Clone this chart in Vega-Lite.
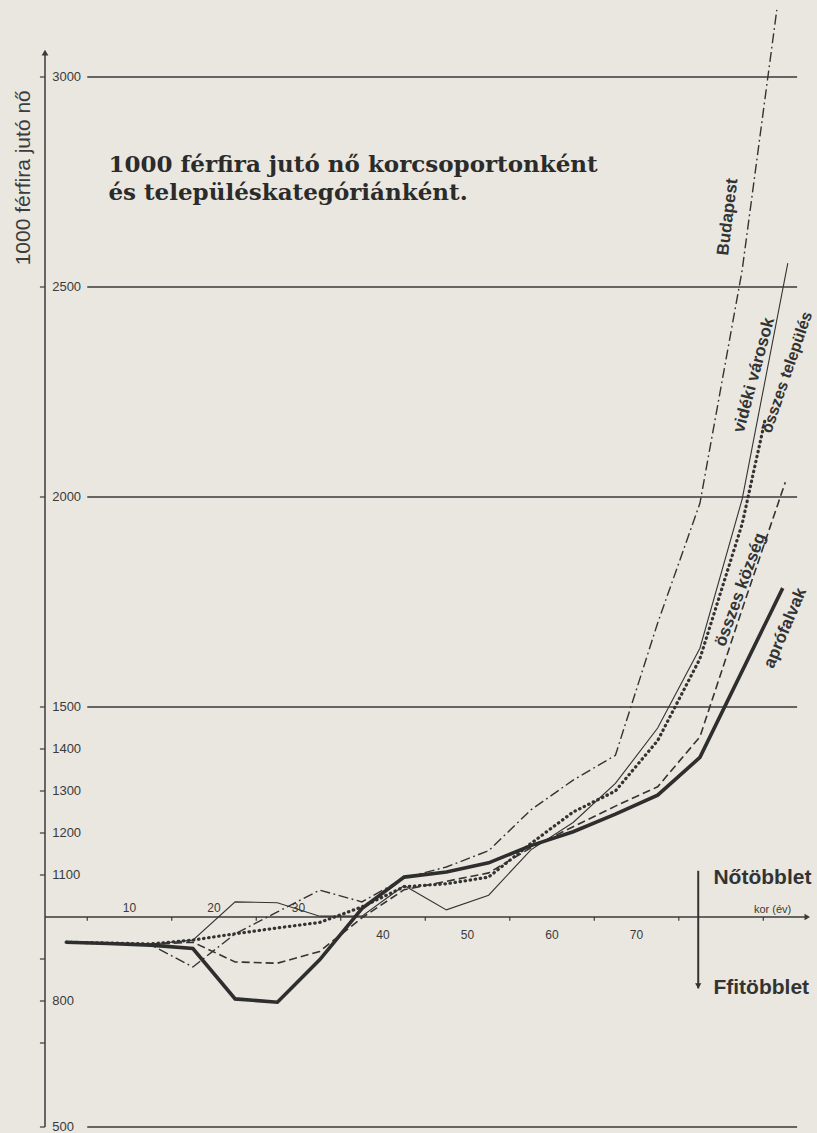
{
  "$schema": "https://vega.github.io/schema/vega-lite/v6.json",
  "width": 769,
  "height": 1127,
  "autosize": {"type": "none"},
  "padding": {"left": 45, "top": 0, "right": 3, "bottom": 6},
  "background": "#e9e7df",
  "config": {"view": {"stroke": null}, "font": "Liberation Sans"},
  "datasets": {
    "lines": [
      {"series": "Budapest", "age": 2.5, "v": 940}, {"series": "Budapest", "age": 7.5, "v": 938}, {"series": "Budapest", "age": 12.5, "v": 934}, {"series": "Budapest", "age": 17.5, "v": 881}, {"series": "Budapest", "age": 22.5, "v": 960}, {"series": "Budapest", "age": 27.5, "v": 1012}, {"series": "Budapest", "age": 32.5, "v": 1064}, {"series": "Budapest", "age": 37.5, "v": 1036}, {"series": "Budapest", "age": 42.5, "v": 1093}, {"series": "Budapest", "age": 47.5, "v": 1119}, {"series": "Budapest", "age": 52.5, "v": 1158}, {"series": "Budapest", "age": 57.5, "v": 1255}, {"series": "Budapest", "age": 62.5, "v": 1326}, {"series": "Budapest", "age": 67.5, "v": 1385}, {"series": "Budapest", "age": 72.5, "v": 1700}, {"series": "Budapest", "age": 77.5, "v": 1985}, {"series": "Budapest", "age": 82.5, "v": 2540}, {"series": "Budapest", "age": 86.6, "v": 3160},
      {"series": "vidéki városok", "age": 2.5, "v": 940}, {"series": "vidéki városok", "age": 7.5, "v": 938}, {"series": "vidéki városok", "age": 12.5, "v": 935}, {"series": "vidéki városok", "age": 17.5, "v": 945}, {"series": "vidéki városok", "age": 22.5, "v": 1036}, {"series": "vidéki városok", "age": 27.5, "v": 1034}, {"series": "vidéki városok", "age": 32.5, "v": 1002}, {"series": "vidéki városok", "age": 37.5, "v": 1002}, {"series": "vidéki városok", "age": 42.5, "v": 1075}, {"series": "vidéki városok", "age": 47.5, "v": 1017}, {"series": "vidéki városok", "age": 52.5, "v": 1052}, {"series": "vidéki városok", "age": 57.5, "v": 1160}, {"series": "vidéki városok", "age": 62.5, "v": 1225}, {"series": "vidéki városok", "age": 67.5, "v": 1318}, {"series": "vidéki városok", "age": 72.5, "v": 1450}, {"series": "vidéki városok", "age": 77.5, "v": 1640}, {"series": "vidéki városok", "age": 82.5, "v": 1995}, {"series": "vidéki városok", "age": 87.9, "v": 2557},
      {"series": "összes település", "age": 2.5, "v": 940}, {"series": "összes település", "age": 7.5, "v": 938}, {"series": "összes település", "age": 12.5, "v": 936}, {"series": "összes település", "age": 17.5, "v": 945}, {"series": "összes település", "age": 22.5, "v": 960}, {"series": "összes település", "age": 27.5, "v": 974}, {"series": "összes település", "age": 32.5, "v": 987}, {"series": "összes település", "age": 37.5, "v": 1024}, {"series": "összes település", "age": 42.5, "v": 1072}, {"series": "összes település", "age": 47.5, "v": 1079}, {"series": "összes település", "age": 52.5, "v": 1095}, {"series": "összes település", "age": 57.5, "v": 1175}, {"series": "összes település", "age": 62.5, "v": 1250}, {"series": "összes település", "age": 67.5, "v": 1300}, {"series": "összes település", "age": 72.5, "v": 1420}, {"series": "összes település", "age": 77.5, "v": 1615}, {"series": "összes település", "age": 82.5, "v": 1936}, {"series": "összes település", "age": 85.2, "v": 2183},
      {"series": "összes község", "age": 2.5, "v": 940}, {"series": "összes község", "age": 7.5, "v": 938}, {"series": "összes község", "age": 12.5, "v": 935}, {"series": "összes község", "age": 17.5, "v": 940}, {"series": "összes község", "age": 22.5, "v": 893}, {"series": "összes község", "age": 27.5, "v": 890}, {"series": "összes község", "age": 32.5, "v": 918}, {"series": "összes község", "age": 37.5, "v": 998}, {"series": "összes község", "age": 42.5, "v": 1065}, {"series": "összes község", "age": 47.5, "v": 1085}, {"series": "összes község", "age": 52.5, "v": 1105}, {"series": "összes község", "age": 57.5, "v": 1165}, {"series": "összes község", "age": 62.5, "v": 1215}, {"series": "összes község", "age": 67.5, "v": 1264}, {"series": "összes község", "age": 72.5, "v": 1310}, {"series": "összes község", "age": 77.5, "v": 1429}, {"series": "összes község", "age": 82.5, "v": 1733}, {"series": "összes község", "age": 87.6, "v": 2035},
      {"series": "aprófalvak", "age": 2.5, "v": 940}, {"series": "aprófalvak", "age": 7.5, "v": 937}, {"series": "aprófalvak", "age": 12.5, "v": 933}, {"series": "aprófalvak", "age": 17.5, "v": 925}, {"series": "aprófalvak", "age": 22.5, "v": 805}, {"series": "aprófalvak", "age": 27.5, "v": 797}, {"series": "aprófalvak", "age": 32.5, "v": 898}, {"series": "aprófalvak", "age": 37.5, "v": 1020}, {"series": "aprófalvak", "age": 42.5, "v": 1095}, {"series": "aprófalvak", "age": 47.5, "v": 1107}, {"series": "aprófalvak", "age": 52.5, "v": 1129}, {"series": "aprófalvak", "age": 57.5, "v": 1170}, {"series": "aprófalvak", "age": 62.5, "v": 1203}, {"series": "aprófalvak", "age": 67.5, "v": 1245}, {"series": "aprófalvak", "age": 72.5, "v": 1290}, {"series": "aprófalvak", "age": 77.5, "v": 1380}, {"series": "aprófalvak", "age": 87.3, "v": 1783}
    ],
    "grid": [{"g": 500}, {"g": 1500}, {"g": 2000}, {"g": 2500}, {"g": 3000}],
    "yticks": [{"v": 500}, {"v": 700}, {"v": 800}, {"v": 900}, {"v": 1100}, {"v": 1200}, {"v": 1300}, {"v": 1400}, {"v": 1500}, {"v": 2000}, {"v": 2500}, {"v": 3000}],
    "ylabels": [{"v": 500, "lab": "500"}, {"v": 800, "lab": "800"}, {"v": 1100, "lab": "1100"}, {"v": 1200, "lab": "1200"}, {"v": 1300, "lab": "1300"}, {"v": 1400, "lab": "1400"}, {"v": 1500, "lab": "1500"}, {"v": 2000, "lab": "2000"}, {"v": 2500, "lab": "2500"}, {"v": 3000, "lab": "3000"}],
    "xticks": [{"t": 5}, {"t": 15}, {"t": 25}, {"t": 35}, {"t": 45}, {"t": 55}, {"t": 65}, {"t": 75}, {"t": 85}],
    "xlabels": [{"a": 10, "lab": "10"}, {"a": 20, "lab": "20"}, {"a": 30, "lab": "30"}, {"a": 40, "lab": "40"}, {"a": 50, "lab": "50"}, {"a": 60, "lab": "60"}, {"a": 70, "lab": "70"}],
    "one": [{}]
  },
  "layer": [
    {
      "data": {"name": "grid"},
      "mark": {"type": "rule", "color": "#3a3a3a", "strokeWidth": 1.3},
      "encoding": {
        "y": {"field": "g", "type": "quantitative", "scale": {"domain": [500, 3183.33], "nice": false, "zero": false}, "axis": null},
        "x": {"datum": 5, "type": "quantitative", "scale": {"domain": [0, 91], "nice": false, "zero": false}, "axis": null},
        "x2": {"datum": 89}
      }
    },
    {
      "data": {"name": "yticks"},
      "mark": {"type": "rule", "color": "#3a3a3a", "strokeWidth": 1.2},
      "encoding": {"y": {"field": "v", "type": "quantitative", "axis": null}, "x": {"datum": -0.6, "type": "quantitative", "axis": null}, "x2": {"datum": 0}}
    },
    {
      "data": {"name": "ylabels"},
      "mark": {"type": "text", "align": "left", "baseline": "middle", "fontSize": 13, "color": "#3a3a3a"},
      "encoding": {"y": {"field": "v", "type": "quantitative", "axis": null}, "x": {"datum": 0.85, "type": "quantitative", "axis": null}, "text": {"field": "lab"}}
    },
    {
      "data": {"name": "one"},
      "mark": {"type": "text", "align": "center", "baseline": "middle", "fontSize": 21, "angle": 270, "color": "#3c3c3c"},
      "encoding": {"x": {"datum": -2.5, "type": "quantitative", "axis": null}, "y": {"datum": 2760, "type": "quantitative", "axis": null}, "text": {"value": "1000 férfira jutó nő"}}
    },
    {
      "data": {"name": "one"},
      "mark": {"type": "rule", "color": "#3a3a3a", "strokeWidth": 1.5},
      "encoding": {"x": {"datum": 0, "type": "quantitative", "axis": null}, "y": {"datum": 500, "type": "quantitative", "axis": null}, "y2": {"datum": 3060}}
    },
    {
      "data": {"name": "one"},
      "mark": {"type": "point", "shape": "triangle-up", "filled": true, "color": "#3a3a3a", "size": 45, "opacity": 1},
      "encoding": {"x": {"datum": 0, "type": "quantitative", "axis": null}, "y": {"datum": 3058, "type": "quantitative", "axis": null}}
    },
    {
      "data": {"name": "one"},
      "mark": {"type": "rule", "color": "#3a3a3a", "strokeWidth": 1.3},
      "encoding": {"x": {"datum": 0, "type": "quantitative", "axis": null}, "x2": {"datum": 90.3}, "y": {"datum": 1000, "type": "quantitative", "axis": null}}
    },
    {
      "data": {"name": "one"},
      "mark": {"type": "point", "shape": "triangle-right", "filled": true, "color": "#3a3a3a", "size": 40, "opacity": 1},
      "encoding": {"x": {"datum": 90.2, "type": "quantitative", "axis": null}, "y": {"datum": 1000, "type": "quantitative", "axis": null}}
    },
    {
      "data": {"name": "xticks"},
      "mark": {"type": "rule", "color": "#3a3a3a", "strokeWidth": 1.2},
      "encoding": {"x": {"field": "t", "type": "quantitative", "axis": null}, "y": {"datum": 1000, "type": "quantitative", "axis": null}, "y2": {"datum": 991}}
    },
    {
      "data": {"name": "xlabels"},
      "transform": [{"filter": "datum.a <= 30"}],
      "mark": {"type": "text", "baseline": "bottom", "align": "center", "fontSize": 12, "color": "#3a3a3a"},
      "encoding": {"x": {"field": "a", "type": "quantitative", "axis": null}, "y": {"datum": 1004, "type": "quantitative", "axis": null}, "text": {"field": "lab"}}
    },
    {
      "data": {"name": "xlabels"},
      "transform": [{"filter": "datum.a > 30"}],
      "mark": {"type": "text", "baseline": "top", "align": "center", "fontSize": 12, "color": "#3a3a3a"},
      "encoding": {"x": {"field": "a", "type": "quantitative", "axis": null}, "y": {"datum": 970, "type": "quantitative", "axis": null}, "text": {"field": "lab"}}
    },
    {
      "data": {"name": "one"},
      "mark": {"type": "text", "baseline": "bottom", "align": "left", "fontSize": 11, "color": "#3a3a3a"},
      "encoding": {"x": {"datum": 83.9, "type": "quantitative", "axis": null}, "y": {"datum": 1004, "type": "quantitative", "axis": null}, "text": {"value": "kor (év)"}}
    },
    {
      "data": {"name": "lines"},
      "transform": [{"filter": "datum.series == 'Budapest'"}],
      "mark": {"type": "line", "color": "#333", "strokeWidth": 1.4, "strokeDash": [10, 3.5, 1.8, 3.5]},
      "encoding": {"x": {"field": "age", "type": "quantitative", "axis": null}, "y": {"field": "v", "type": "quantitative", "axis": null}}
    },
    {
      "data": {"name": "lines"},
      "transform": [{"filter": "datum.series == 'vidéki városok'"}],
      "mark": {"type": "line", "color": "#333", "strokeWidth": 1.1},
      "encoding": {"x": {"field": "age", "type": "quantitative", "axis": null}, "y": {"field": "v", "type": "quantitative", "axis": null}}
    },
    {
      "data": {"name": "lines"},
      "transform": [{"filter": "datum.series == 'összes település'"}],
      "mark": {"type": "line", "color": "#333", "strokeWidth": 3.2, "strokeDash": [0.5, 4.6], "strokeCap": "round"},
      "encoding": {"x": {"field": "age", "type": "quantitative", "axis": null}, "y": {"field": "v", "type": "quantitative", "axis": null}}
    },
    {
      "data": {"name": "lines"},
      "transform": [{"filter": "datum.series == 'összes község'"}],
      "mark": {"type": "line", "color": "#333", "strokeWidth": 1.6, "strokeDash": [8, 4]},
      "encoding": {"x": {"field": "age", "type": "quantitative", "axis": null}, "y": {"field": "v", "type": "quantitative", "axis": null}}
    },
    {
      "data": {"name": "lines"},
      "transform": [{"filter": "datum.series == 'aprófalvak'"}],
      "mark": {"type": "line", "color": "#2e2e2e", "strokeWidth": 3.6},
      "encoding": {"x": {"field": "age", "type": "quantitative", "axis": null}, "y": {"field": "v", "type": "quantitative", "axis": null}}
    },
    {
      "data": {"name": "one"},
      "mark": {"type": "text", "align": "left", "baseline": "alphabetic", "font": "DejaVu Serif", "fontWeight": "bold", "fontSize": 23, "color": "#2b2b2b"},
      "encoding": {"x": {"datum": 7.5, "type": "quantitative", "axis": null}, "y": {"datum": 2774, "type": "quantitative", "axis": null}, "text": {"value": "1000 férfira jutó nő korcsoportonként"}}
    },
    {
      "data": {"name": "one"},
      "mark": {"type": "text", "align": "left", "baseline": "alphabetic", "font": "DejaVu Serif", "fontWeight": "bold", "fontSize": 23, "color": "#2b2b2b"},
      "encoding": {"x": {"datum": 7.5, "type": "quantitative", "axis": null}, "y": {"datum": 2708, "type": "quantitative", "axis": null}, "text": {"value": "és településkategóriánként."}}
    },
    {
      "data": {"name": "one"},
      "mark": {"type": "text", "align": "center", "baseline": "middle", "fontWeight": "bold", "fontSize": 17, "angle": 277, "color": "#333"},
      "encoding": {"x": {"datum": 80.8, "type": "quantitative", "axis": null}, "y": {"datum": 2667, "type": "quantitative", "axis": null}, "text": {"value": "Budapest"}}
    },
    {
      "data": {"name": "one"},
      "mark": {"type": "text", "align": "center", "baseline": "middle", "fontWeight": "bold", "fontSize": 17, "angle": 285, "color": "#333"},
      "encoding": {"x": {"datum": 83.9, "type": "quantitative", "axis": null}, "y": {"datum": 2290, "type": "quantitative", "axis": null}, "text": {"value": "vidéki városok"}}
    },
    {
      "data": {"name": "one"},
      "mark": {"type": "text", "align": "center", "baseline": "middle", "fontWeight": "bold", "fontSize": 16, "angle": 289, "color": "#333"},
      "encoding": {"x": {"datum": 87.8, "type": "quantitative", "axis": null}, "y": {"datum": 2297, "type": "quantitative", "axis": null}, "text": {"value": "összes település"}}
    },
    {
      "data": {"name": "one"},
      "mark": {"type": "text", "align": "center", "baseline": "middle", "fontWeight": "bold", "fontSize": 17, "angle": 290, "color": "#333"},
      "encoding": {"x": {"datum": 82.3, "type": "quantitative", "axis": null}, "y": {"datum": 1779, "type": "quantitative", "axis": null}, "text": {"value": "összes község"}}
    },
    {
      "data": {"name": "one"},
      "mark": {"type": "text", "align": "center", "baseline": "middle", "fontWeight": "bold", "fontSize": 17, "angle": 293, "color": "#333"},
      "encoding": {"x": {"datum": 87.6, "type": "quantitative", "axis": null}, "y": {"datum": 1688, "type": "quantitative", "axis": null}, "text": {"value": "aprófalvak"}}
    },
    {
      "data": {"name": "one"},
      "mark": {"type": "rule", "color": "#333", "strokeWidth": 2},
      "encoding": {"x": {"datum": 77.3, "type": "quantitative", "axis": null}, "y": {"datum": 1110, "type": "quantitative", "axis": null}, "y2": {"datum": 830}}
    },
    {
      "data": {"name": "one"},
      "mark": {"type": "point", "shape": "triangle-down", "filled": true, "color": "#333", "size": 40, "opacity": 1},
      "encoding": {"x": {"datum": 77.3, "type": "quantitative", "axis": null}, "y": {"datum": 836, "type": "quantitative", "axis": null}}
    },
    {
      "data": {"name": "one"},
      "mark": {"type": "text", "align": "left", "baseline": "middle", "fontWeight": "bold", "fontSize": 21, "color": "#333"},
      "encoding": {"x": {"datum": 79.1, "type": "quantitative", "axis": null}, "y": {"datum": 1093, "type": "quantitative", "axis": null}, "text": {"value": "Nőtöbblet"}}
    },
    {
      "data": {"name": "one"},
      "mark": {"type": "text", "align": "left", "baseline": "middle", "fontWeight": "bold", "fontSize": 21, "color": "#333"},
      "encoding": {"x": {"datum": 79.1, "type": "quantitative", "axis": null}, "y": {"datum": 830, "type": "quantitative", "axis": null}, "text": {"value": "Ffitöbblet"}}
    }
  ]
}
